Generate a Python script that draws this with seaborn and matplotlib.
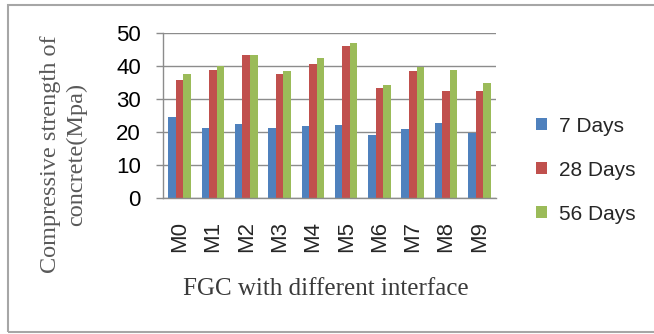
import matplotlib
matplotlib.use("Agg")
import matplotlib.pyplot as plt
from matplotlib.patches import Rectangle, Patch
import seaborn as sns
import pandas as pd

mixes = ["M0", "M1", "M2", "M3", "M4", "M5", "M6", "M7", "M8", "M9"]
ages = ["7 Days", "28 Days", "56 Days"]
day7 = [24.4, 21.3, 22.3, 21.3, 21.8, 22.2, 19.1, 20.9, 22.6, 19.6]
day28 = [35.7, 38.8, 43.5, 37.5, 40.7, 46.2, 33.4, 38.4, 32.6, 32.6]
day56 = [37.5, 40.1, 43.5, 38.4, 42.5, 46.9, 34.3, 39.8, 38.8, 34.9]
colors = ["#4F81BD", "#C0504D", "#9BBB59"]

rows = []
for age, vals in zip(ages, [day7, day28, day56]):
    for m, v in zip(mixes, vals):
        rows.append({"mix": m, "age": age, "strength": v})
df = pd.DataFrame(rows)

sns.set_theme(style="white")
fig = plt.figure(figsize=(6.54, 3.34), dpi=100)
ax = fig.add_axes([163 / 654, 1 - 197.7 / 334, (496 - 163) / 654, (197.7 - 33.3) / 334])

sns.barplot(data=df, x="mix", y="strength", hue="age", hue_order=ages,
            palette=colors, width=0.68, saturation=1, ax=ax, legend=False,
            linewidth=0, errorbar=None)

ax.set_ylim(0, 50)
ax.set_yticks(range(0, 51, 10))
ax.yaxis.grid(True, color="#8c8c8c", linewidth=1)
ax.set_axisbelow(True)
for s in ["top", "right"]:
    ax.spines[s].set_visible(False)
for s in ["left", "bottom"]:
    ax.spines[s].set_color("#8c8c8c")
    ax.spines[s].set_linewidth(1)
ax.tick_params(axis="y", length=5, color="#8c8c8c", width=1, labelsize=16,
               labelcolor="black", left=True, pad=11)
ax.tick_params(axis="x", length=0, labelsize=16, labelrotation=90, pad=17)
for t in ax.get_yticklabels() + ax.get_xticklabels():
    t.set_fontfamily("Liberation Sans")
ax.set_xlabel("")
ax.set_ylabel("")

fig.text(326 / 654, 1 - 289 / 334, "FGC with different interface",
         ha="center", va="center", fontsize=18, family="Liberation Serif",
         color="#3a3a3a")
fig.text(64 / 654, 1 - 154 / 334, "Compressive strength of\nconcrete(Mpa)",
         ha="center", va="center", rotation=90, fontsize=17.5,
         family="Liberation Serif", color="#595959", linespacing=1.3,
         multialignment="center")

handles = [Patch(facecolor=c, edgecolor="none") for c in colors]
fig.legend(handles, ages, loc="center left",
           bbox_to_anchor=(536 / 654, 1 - 170 / 334), frameon=False,
           prop={"family": "Liberation Sans", "size": 15},
           handlelength=0.55, handleheight=0.55, handletextpad=0.55,
           labelspacing=1.2, borderaxespad=0, borderpad=0)

fig.patches.append(Rectangle((8 / 654, 2 / 334), 700 / 654, 327 / 334,
                             transform=fig.transFigure, fill=False,
                             edgecolor="#a6a6a6", linewidth=1.5))

fig.savefig("out.png", dpi=100)
